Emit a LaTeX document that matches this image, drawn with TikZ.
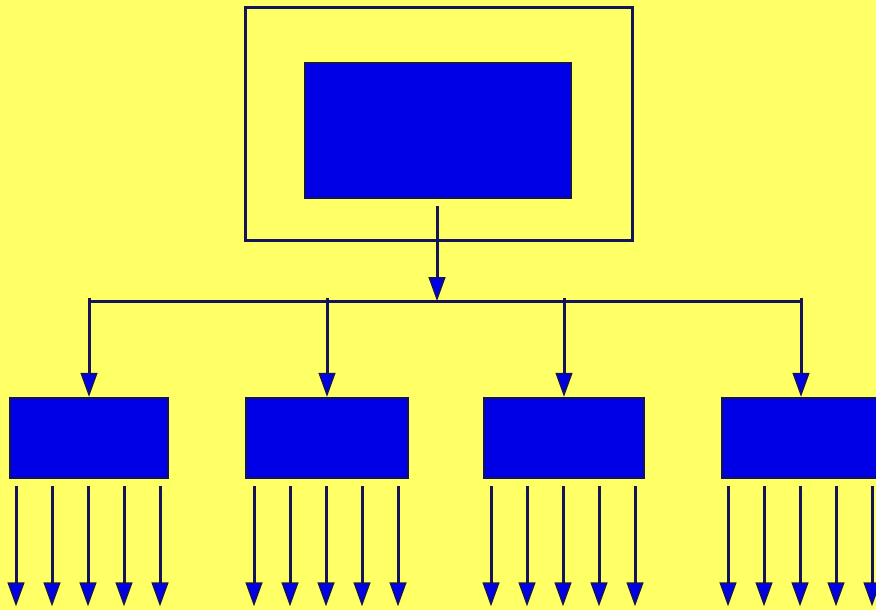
\documentclass[tikz,border=0pt]{standalone}
\usepackage{xcolor}
\usepackage{tikz}
\usetikzlibrary{arrows.meta,positioning}

\definecolor{bgyellow}{HTML}{FFFF66}
\definecolor{boxblue}{HTML}{0000E6}
\definecolor{navy}{HTML}{14145A}

\begin{document}
\begin{tikzpicture}
  [
    x=1pt, y=-1pt,
    frame/.style={rectangle,draw=navy,line width=3pt,inner sep=0pt},
    unit/.style={rectangle,draw=navy,fill=boxblue,line width=2.5pt,inner sep=0pt},
    flow/.style={draw=navy,line width=3pt,-{Triangle[length=24pt,width=17pt,fill=boxblue,line width=1.5pt]}},
    bus/.style={draw=navy,line width=3pt}
  ]
  \fill[bgyellow] (0,0) rectangle (876,610);
  \useasboundingbox (0,0) rectangle (876,610);

  \node[frame,minimum width=387pt,minimum height=232pt] (outer) at (438.5,124) {};
  \node[unit,minimum width=266pt,minimum height=135pt] (main) at (438,130.5) {};

  \node[unit,minimum width=158pt,minimum height=80pt] (c1) at (89,438) {};
  \node[unit,minimum width=162pt,minimum height=80pt] (c2) at (327,438) {};
  \node[unit,minimum width=160pt,minimum height=80pt] (c3) at (564,438) {};
  \node[unit,minimum width=158pt,minimum height=80pt] (c4) at (801,438) {};

  \coordinate (split) at (437,301);
  \coordinate (busL) at (89,301);
  \coordinate (busR) at (801,301);

  \draw[flow,shorten <=7pt] (main.south -| split) -- (split);
  \draw[bus] (busL) -- (busR);
  \foreach \b in {c1,c2,c3,c4}
    \draw[flow] (\b.north |- busL) ++(0,-3) -- (\b.north);

  % outputs of each unit
  \foreach \b in {c1,c2,c3,c4}
    \foreach \dx [count=\i] in {-73,-37,-1,35,71} {
      \path ([xshift=\dx pt]\b.south) ++(0,7) coordinate (\b-in\i)
        ++(0,120) coordinate (\b-out\i);
      \draw[flow] (\b-in\i) -- (\b-out\i);
    }
\end{tikzpicture}
\end{document}
